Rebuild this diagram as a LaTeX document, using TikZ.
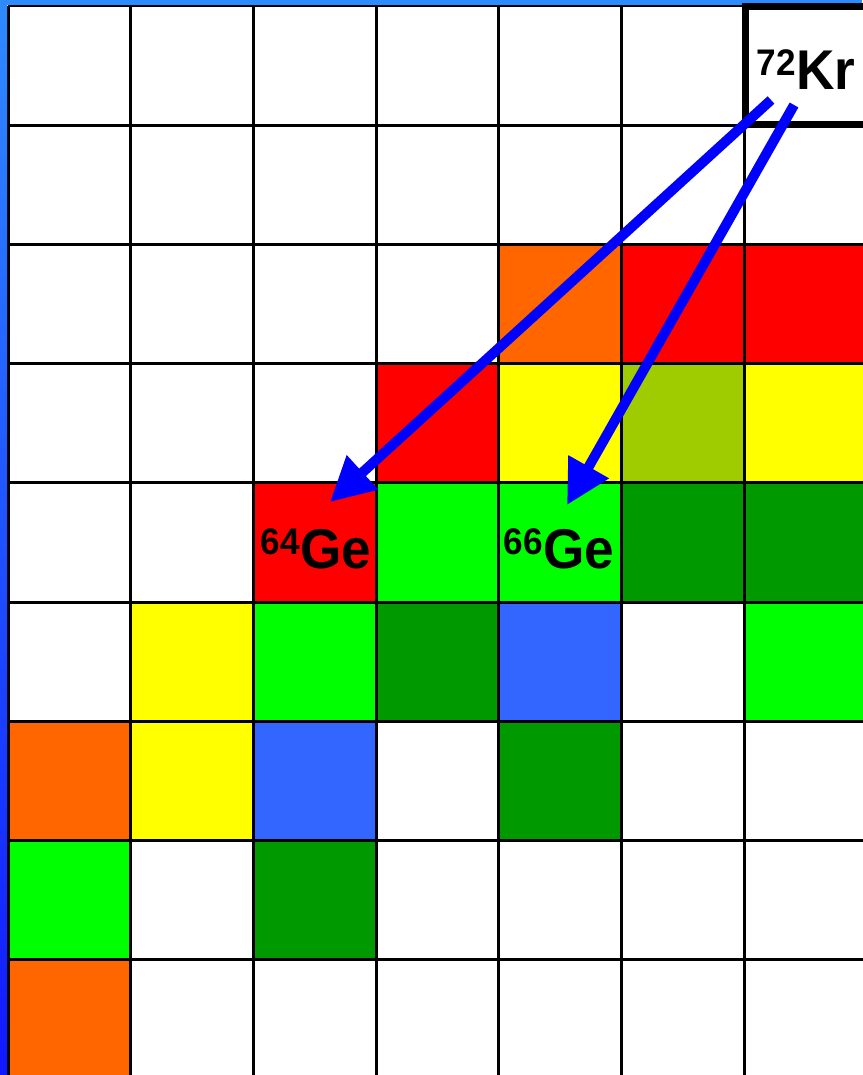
\documentclass[tikz,border=0pt]{standalone}
\usepackage{fontspec}
\setmainfont{Liberation Sans}
\usetikzlibrary{arrows.meta}
\definecolor{cOr}{HTML}{FF6600}
\definecolor{cRe}{HTML}{FF0000}
\definecolor{cYe}{HTML}{FFFF00}
\definecolor{cOl}{HTML}{9FCC00}
\definecolor{cGr}{HTML}{00FF00}
\definecolor{cDg}{HTML}{009900}
\definecolor{cBl}{HTML}{3366FF}
\definecolor{cArrow}{HTML}{0000FF}
\definecolor{cTop}{HTML}{2E8BFF}
\definecolor{cBot}{HTML}{1018FF}
\tikzset{
  gridline/.style={black, line width=3pt},
  isotope/.style={font=\bfseries\fontsize{56}{56}\selectfont, xscale=0.95, inner sep=0pt, text=black},
  decay/.style={cArrow, line width=10pt, -{Triangle[length=44pt,width=44pt]}},
  krbox/.style={draw=black, fill=white, line width=7pt},
}
\newcommand{\isosup}[1]{\raisebox{14pt}{\fontsize{37}{37}\selectfont #1}}
\begin{document}
\begin{tikzpicture}[x=1pt,y=-1pt]
\useasboundingbox (0,0) rectangle (862,1075);
\fill[white] (0,0) rectangle (862,1075);
% cells
\foreach \c/\r/\col in {4/2/cOr,5/2/cRe,6/2/cRe,
  3/3/cRe,4/3/cYe,5/3/cOl,6/3/cYe,
  2/4/cRe,3/4/cGr,4/4/cGr,5/4/cDg,6/4/cDg,
  1/5/cYe,2/5/cGr,3/5/cDg,4/5/cBl,6/5/cGr,
  0/6/cOr,1/6/cYe,2/6/cBl,4/6/cDg,
  0/7/cGr,2/7/cDg,
  0/8/cOr}{
  \fill[\col] ({8+122.67*\c},{6+119.2*\r}) rectangle ++(122.67,119.2);
}
% grid
\foreach \c in {0,...,6}{
  \draw[gridline] ({8+122.67*\c},6) -- ({8+122.67*\c},1080);
}
\foreach \r in {0,...,8}{
  \draw[gridline] (8,{6+119.2*\r}) -- (866,{6+119.2*\r});
}
% frame
\shade[top color=cTop, bottom color=cBot] (0,0) rectangle (7,1075);
\fill[cTop] (0,0) rectangle (862,5);
% Kr box
\draw[krbox] (745,6.5) rectangle (872,125);
\node[isotope] (kr) at (806,70) {\isosup{72}Kr};
\node[isotope] (ge64) at (316,549) {\isosup{64}Ge};
\node[isotope] (ge66) at (559,549) {\isosup{66}Ge};
% arrows
\coordinate (tailA) at (771,100);
\coordinate (tailB) at (794,105);
\coordinate (tipA) at (330,502);
\coordinate (tipB) at (567,505);
\draw[decay] (tailA) -- (tipA);
\draw[decay] (tailB) -- (tipB);
\end{tikzpicture}
\end{document}
